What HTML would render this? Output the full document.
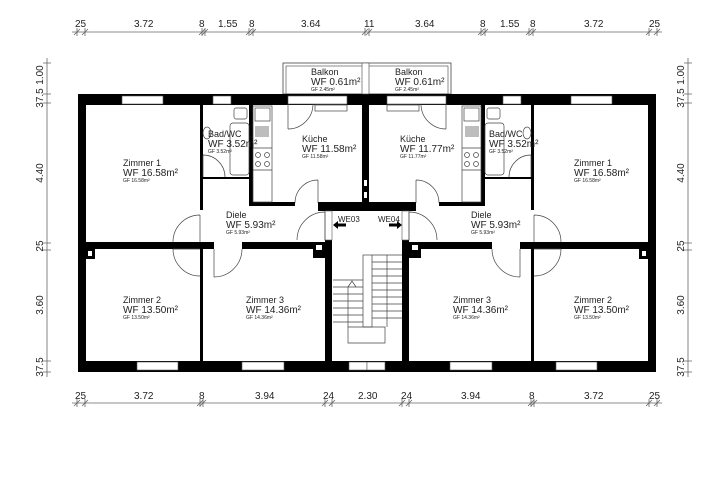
<!DOCTYPE html>
<html><head><meta charset="utf-8"><style>
html,body{margin:0;padding:0;background:#fff}
svg{display:block}
text{font-family:"Liberation Sans",sans-serif;fill:#222}
.l{font-size:9px}.w{font-size:10px}.g{font-size:5px}.d{font-size:10px}
</style></head><body>
<svg width="719" height="482" viewBox="0 0 719 482" xmlns="http://www.w3.org/2000/svg">
<!-- dimension lines -->
<g stroke="#666" stroke-width="0.8" fill="none">
<line x1="72" y1="32" x2="662" y2="32"/>
<line x1="72" y1="403" x2="662" y2="403"/>
<line x1="47" y1="58" x2="47" y2="377"/>
<line x1="688" y1="58" x2="688" y2="377"/>
<g id="tk">
<path d="M77,28v8M85,28v8M202,28v8M205,28v8M249,28v8M253,28v8M365,28v8M369,28v8M481,28v8M485,28v8M529,28v8M533,28v8M649,28v8M657,28v8"/>
<path d="M74,35l6,-6M82,35l6,-6M199,35l6,-6M202,35l6,-6M246,35l6,-6M250,35l6,-6M362,35l6,-6M366,35l6,-6M478,35l6,-6M482,35l6,-6M526,35l6,-6M530,35l6,-6M646,35l6,-6M654,35l6,-6"/>
</g>
<path d="M77,399v8M85,399v8M200,399v8M203,399v8M325,399v8M332,399v8M402,399v8M409,399v8M531,399v8M534,399v8M649,399v8M657,399v8"/>
<path d="M74,406l6,-6M82,406l6,-6M197,406l6,-6M200,406l6,-6M322,406l6,-6M329,406l6,-6M399,406l6,-6M406,406l6,-6M528,406l6,-6M531,406l6,-6M646,406l6,-6M654,406l6,-6"/>
<path d="M43,63h8M43,94h8M43,103h8M43,243h8M43,250h8M43,361h8M43,372h8"/>
<path d="M684,63h8M684,94h8M684,103h8M684,243h8M684,250h8M684,361h8M684,372h8"/>
</g>
<g class="d">
<text x="75" y="27">25</text><text x="134" y="27">3.72</text><text x="199" y="27">8</text><text x="218" y="27">1.55</text><text x="249" y="27">8</text><text x="301" y="27">3.64</text><text x="364" y="27">11</text><text x="415" y="27">3.64</text><text x="480" y="27">8</text><text x="500" y="27">1.55</text><text x="530" y="27">8</text><text x="584" y="27">3.72</text><text x="649" y="27">25</text>
<text x="75" y="399">25</text><text x="134" y="399">3.72</text><text x="199" y="399">8</text><text x="255" y="399">3.94</text><text x="323" y="399">24</text><text x="358" y="399">2.30</text><text x="401" y="399">24</text><text x="461" y="399">3.94</text><text x="529" y="399">8</text><text x="584" y="399">3.72</text><text x="649" y="399">25</text>
</g>
<g class="d" text-anchor="middle">
<text transform="translate(43,75) rotate(-90)">1.00</text><text transform="translate(43,98) rotate(-90)">37.5</text><text transform="translate(43,173) rotate(-90)">4.40</text><text transform="translate(43,246) rotate(-90)">25</text><text transform="translate(43,305) rotate(-90)">3.60</text><text transform="translate(43,367) rotate(-90)">37.5</text>
<text transform="translate(684,75) rotate(-90)">1.00</text><text transform="translate(684,98) rotate(-90)">37.5</text><text transform="translate(684,173) rotate(-90)">4.40</text><text transform="translate(684,246) rotate(-90)">25</text><text transform="translate(684,305) rotate(-90)">3.60</text><text transform="translate(684,367) rotate(-90)">37.5</text>
</g>

<defs>
<g id="half">
<!-- balcony -->
<rect x="283" y="63" width="84" height="31" fill="none" stroke="#444" stroke-width="0.8"/>
<rect x="286" y="66" width="81" height="28" fill="none" stroke="#444" stroke-width="0.6"/>
<!-- walls -->
<g fill="#000">
<rect x="78" y="94" width="289" height="11"/>
<rect x="78" y="94" width="8" height="278"/>
<rect x="78" y="361" width="289" height="11"/>
<rect x="86" y="242" width="128" height="7"/>
<rect x="242" y="242" width="83" height="7"/>
<rect x="200" y="105" width="3" height="105"/>
<rect x="200" y="249" width="3" height="112"/>
<rect x="249" y="105" width="4" height="101"/>
<rect x="203" y="177" width="46" height="2"/>
<rect x="249" y="202" width="46" height="4"/>
<rect x="318" y="202" width="49" height="9"/>
<rect x="325" y="240" width="7" height="121"/>
<rect x="313" y="242" width="12" height="16"/>
<rect x="86" y="249" width="9" height="10"/>
</g>
<rect x="316" y="245" width="6" height="5" fill="#fff"/>
<rect x="88" y="251" width="4" height="5" fill="#fff"/>
<!-- windows -->
<g fill="#fff" stroke="#555" stroke-width="0.6">
<rect x="122" y="96" width="41" height="8"/>
<rect x="213" y="96" width="18" height="8"/>
<rect x="288" y="96" width="59" height="8"/>
<rect x="137" y="362" width="41" height="8"/>
<rect x="242" y="362" width="42" height="8"/>
<rect x="349" y="362" width="18" height="8"/>
<rect x="325" y="211" width="7" height="29"/>
</g>
<g fill="none" stroke="#444" stroke-width="0.7">
<rect x="315" y="105" width="32" height="6"/>
<!-- doors -->
<path d="M288,129 A25,25 0 0 0 313,104 M288,104v25"/>
<path d="M295,203 A23,23 0 0 1 318,180 M318,180v23"/>
<path d="M203,155 A22,22 0 0 1 225,177 M203,155v22"/>
<path d="M173,242 A27,27 0 0 1 200,215 M200,215v27"/>
<path d="M297,240 A28,28 0 0 1 325,212 M325,212v28"/>
<path d="M214,277 A28,28 0 0 0 242,249 M214,249v28"/>
<path d="M173,249 A27,27 0 0 0 200,276 M173,249h27"/>
<!-- kitchen counter -->
<rect x="253" y="106" width="19" height="96"/>
<rect x="255" y="108" width="15" height="13"/>
<path d="M256,126v11M258,126v11M260,126v11M262,126v11M264,126v11M266,126v11M268,126v11"/>
<circle cx="258" cy="155" r="2.5"/><circle cx="267" cy="155" r="2.5"/><circle cx="258" cy="164" r="2.5"/><circle cx="267" cy="164" r="2.5"/>
<path d="M253,148h19M253,170h19"/>
<!-- bath -->
<rect x="230" y="123" width="19" height="52" rx="3"/>
<rect x="234" y="108" width="13" height="11" rx="2"/>
<ellipse cx="207" cy="133" rx="4" ry="6"/>
</g>
</g>
</defs>
<use href="#half"/>
<use href="#half" transform="matrix(-1 0 0 1 734 0)"/>
<!-- center divider wall -->
<rect x="362" y="105" width="7" height="98" fill="#000"/>
<rect x="364" y="180" width="3" height="6" fill="#fff"/><rect x="364" y="192" width="3" height="6" fill="#fff"/>
<rect x="362" y="63" width="7" height="31" fill="#fff" stroke="#444" stroke-width="0.6"/>
<!-- stairs -->
<g fill="none" stroke="#444" stroke-width="0.7">
<rect x="363" y="255" width="9" height="72"/>
<path d="M372,255h30M372,262h30M372,269h30M372,276h30M372,283h30M372,290h30M372,297h30M372,304h30M372,311h30M372,318h30M387,255v72"/>
<path d="M333,280h30M333,287h30M333,294h30M333,301h30M333,308h30M333,315h30M333,322h30M348,287v40"/>
<path d="M348,327h37v16h-37z"/>
<path d="M348,287l4,-6l4,6"/>
</g>
<!-- arrows -->
<path d="M333,225l5,-4v2.5h8v3h-8v2.5z" fill="#000"/>
<path d="M402,225l-5,-4v2.5h-8v3h8v2.5z" fill="#000"/>
<text x="338" y="222" style="font-size:8px">WE03</text>
<text x="378" y="222" style="font-size:8px">WE04</text>
<!-- labels -->
<text class="l" x="311" y="75">Balkon</text><text class="w" x="311" y="85">WF 0.61m²</text><text class="g" x="311" y="91">GF 2.45m²</text>
<text class="l" x="395" y="75">Balkon</text><text class="w" x="395" y="85">WF 0.61m²</text><text class="g" x="395" y="91">GF 2.45m²</text>
<text class="l" x="123" y="166">Zimmer 1</text><text class="w" x="123" y="176">WF 16.58m²</text><text class="g" x="123" y="182">GF 16.58m²</text>
<text class="l" x="574" y="166">Zimmer 1</text><text class="w" x="574" y="176">WF 16.58m²</text><text class="g" x="574" y="182">GF 16.58m²</text>
<text class="l" x="208" y="137">Bad/WC</text><text class="w" x="208" y="147">WF 3.52m²</text><text class="g" x="208" y="153">GF 3.52m²</text>
<text class="l" x="489" y="137">Bad/WC</text><text class="w" x="489" y="147">WF 3.52m²</text><text class="g" x="489" y="153">GF 3.52m²</text>
<text class="l" x="302" y="142">Küche</text><text class="w" x="302" y="152">WF 11.58m²</text><text class="g" x="302" y="158">GF 11.58m²</text>
<text class="l" x="400" y="142">Küche</text><text class="w" x="400" y="152">WF 11.77m²</text><text class="g" x="400" y="158">GF 11.77m²</text>
<text class="l" x="226" y="218">Diele</text><text class="w" x="226" y="228">WF 5.93m²</text><text class="g" x="226" y="234">GF 5.93m²</text>
<text class="l" x="471" y="218">Diele</text><text class="w" x="471" y="228">WF 5.93m²</text><text class="g" x="471" y="234">GF 5.93m²</text>
<text class="l" x="123" y="303">Zimmer 2</text><text class="w" x="123" y="313">WF 13.50m²</text><text class="g" x="123" y="319">GF 13.50m²</text>
<text class="l" x="574" y="303">Zimmer 2</text><text class="w" x="574" y="313">WF 13.50m²</text><text class="g" x="574" y="319">GF 13.50m²</text>
<text class="l" x="246" y="303">Zimmer 3</text><text class="w" x="246" y="313">WF 14.36m²</text><text class="g" x="246" y="319">GF 14.36m²</text>
<text class="l" x="453" y="303">Zimmer 3</text><text class="w" x="453" y="313">WF 14.36m²</text><text class="g" x="453" y="319">GF 14.36m²</text>
</svg>
</body></html>
